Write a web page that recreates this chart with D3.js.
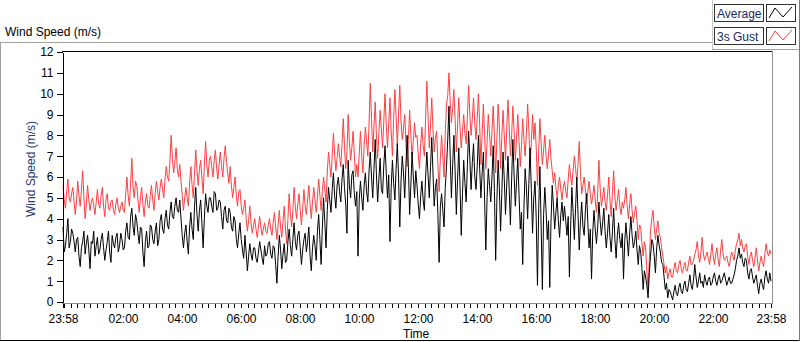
<!DOCTYPE html>
<html>
<head>
<meta charset="utf-8">
<script src="https://cdn.jsdelivr.net/npm/d3@7"></script>
<style>
  body { margin: 0; background: #fff; }
  svg { display: block; font-family: "Liberation Sans", Arial, sans-serif; }
</style>
</head>
<body>
<div id="chart"></div>
<script>
/* Samples every 2.5 minutes, starting 23:58, one row per hour. */
const stepMinutes = 2.5;
const avgSpeed = [
  3.6,2.4, 2.7,3.3, 4.0,2.6, 2.9,3.5, 3.3,2.9, 2.4,3.0, 3.1,2.2, 1.7,2.6, 2.9,3.4, 2.3,2.8, 3.2,2.5, 1.6,2.9,
  2.8,3.4, 2.2,2.7, 3.1,2.3, 2.5,3.0, 3.3,2.6, 2.0,2.5, 2.9,3.4, 2.4,1.9, 3.2,2.8, 2.6,3.1, 3.3,2.4, 2.7,3.3,
  3.0,2.5, 2.6,3.4, 3.8,3.1, 3.0,4.1, 4.5,3.6, 3.2,4.2, 3.9,3.3, 2.8,3.6, 3.5,2.4, 1.7,2.9, 3.4,2.6, 2.7,3.7,
  3.6,3.0, 2.8,3.4, 3.8,2.7, 3.0,3.9, 4.2,3.5, 3.3,4.0, 4.4,3.7, 3.5,4.3, 4.8,4.1, 4.0,4.6, 5.0,4.4, 4.3,4.9,
  4.0,3.2, 2.6,3.3, 3.7,2.9, 2.3,3.6, 4.3,3.5, 3.0,4.6, 5.5,4.2, 3.4,4.4, 4.9,3.8, 2.6,4.0, 5.2,4.6, 4.3,5.0,
  5.0,4.6, 4.3,5.3, 5.2,4.4, 4.5,4.9, 4.8,4.1, 3.5,4.4, 4.6,3.9, 3.8,4.5, 4.3,3.6, 3.4,4.1, 3.9,3.0, 2.6,3.3,
  3.8,3.0, 2.5,2.1, 3.2,2.4, 1.5,2.2, 2.8,2.3, 2.0,2.6, 2.6,2.1, 1.9,2.4, 2.9,2.5, 2.1,1.8, 2.7,2.2, 2.3,2.8,
  2.9,2.3, 2.1,2.7, 2.6,1.8, 0.9,2.2, 3.2,2.5, 1.6,2.3, 2.8,1.9, 2.0,2.9, 3.5,2.7, 2.2,3.0, 3.8,2.9, 2.5,3.2,
  3.4,2.6, 1.8,2.5, 3.0,3.3, 2.4,2.9, 3.6,2.2, 1.5,2.6, 3.2,2.7, 2.0,3.4, 4.2,3.0, 1.8,3.6, 5.0,3.8, 2.6,4.4,
  5.5,4.9, 4.3,5.4, 6.2,5.1, 4.5,5.6, 6.0,5.3, 4.8,5.9, 6.6,5.5, 4.7,3.3, 6.8,5.6, 5.0,6.1, 6.3,5.2, 4.6,5.3,
  2.2,4.9, 5.8,5.0, 4.4,5.6, 6.2,5.3, 4.8,6.3, 7.2,6.0, 5.0,6.4, 7.8,6.1, 4.8,5.9, 6.9,5.4, 5.2,6.6, 7.5,6.2,
  5.0,6.1, 2.9,5.5, 6.8,5.7, 4.9,6.4, 7.6,6.0, 3.6,5.8, 7.0,6.2, 5.0,6.6, 8.0,6.5, 4.2,5.6, 7.2,6.0, 5.0,6.3,
  5.6,4.7, 4.0,5.1, 5.8,4.9, 4.4,6.0, 7.2,6.1, 5.0,6.5, 7.9,6.2, 4.6,5.5, 5.9,4.2, 1.9,4.6, 5.2,4.4, 3.6,5.5,
  6.5,7.8, 9.4,7.0, 5.0,6.6, 8.0,6.3, 4.2,5.9, 7.4,5.6, 3.2,5.2, 6.8,5.7, 4.8,6.6, 8.2,6.9, 5.4,6.7, 7.6,6.0,
  5.4,6.5, 8.0,6.4, 5.0,6.2, 7.2,4.9, 2.5,5.0, 6.4,5.6, 4.8,6.0, 7.5,5.3, 2.0,4.9, 6.8,5.5, 3.4,5.2, 7.2,5.9,
  4.2,5.6, 7.0,5.4, 3.7,5.9, 7.8,6.1, 4.6,5.8, 6.9,5.2, 3.5,4.3, 1.8,4.5, 6.4,5.5, 4.0,5.7, 7.4,5.4, 3.3,5.0,
  5.8,4.0, 0.8,4.5, 6.5,3.6, 0.6,4.2, 5.5,4.4, 3.0,3.9, 0.7,3.8, 5.6,4.6, 3.5,4.3, 5.0,3.9, 3.1,4.2, 4.8,3.9,
  4.6,3.9, 3.2,4.1, 1.2,3.6, 5.5,4.3, 3.0,4.5, 6.0,4.2, 2.5,3.9, 4.8,3.6, 3.2,4.4, 5.2,3.8, 2.6,3.5, 1.1,3.4,
  4.4,3.5, 2.8,3.6, 4.8,3.9, 3.2,3.8, 4.5,3.4, 2.6,3.3, 4.2,3.1, 2.4,3.4, 4.5,3.0, 2.1,3.2, 3.8,3.0, 2.6,3.3,
  1.1,2.9, 3.8,3.0, 2.2,3.3, 4.1,3.2, 2.6,2.9, 3.4,2.5, 1.8,2.7, 2.4,1.6, 0.6,1.5, 1.2,0.8, 0.2,1.4, 2.2,3.0,
  2.8,2.2, 1.4,2.6, 3.2,2.7, 2.4,1.9, 1.8,1.2, 0.6,0.9, 0.2,0.6, 0.5,0.3, 0.1,0.5, 0.8,0.4, 0.3,0.7, 0.9,0.5,
  0.4,0.8, 1.0,0.6, 0.5,0.9, 1.3,0.8, 0.6,1.1, 1.8,1.2, 0.7,1.0, 1.4,0.9, 1.0,0.7, 1.3,1.0, 0.8,1.1, 1.2,0.8,
  0.9,1.2, 1.4,1.0, 0.8,1.1, 1.3,0.9, 1.0,1.2, 1.4,1.1, 0.8,1.0, 1.2,0.9, 0.9,1.1, 1.3,1.6, 2.0,2.2, 2.6,2.1,
  2.3,1.9, 1.7,2.1, 2.0,1.4, 1.1,1.5, 1.6,1.2, 0.9,1.1, 1.3,0.8, 0.4,0.9, 1.1,0.8, 0.6,1.2, 1.5,1.1, 0.9,1.4,
  1.0
];
const gustSpeed = [
  5.6,4.9, 4.5,5.3, 5.9,5.0, 4.8,5.2, 5.5,4.8, 4.2,4.9, 5.8,5.1, 4.6,5.4, 6.3,5.0, 4.0,4.7, 5.6,4.9, 4.4,4.8,
  5.0,4.6, 4.2,4.8, 5.4,4.7, 4.5,5.1, 5.5,4.6, 4.1,4.9, 5.2,4.5, 4.4,4.8, 4.9,4.4, 4.2,4.7, 5.0,4.5, 4.3,4.6,
  4.8,4.4, 4.3,5.2, 6.0,5.1, 4.6,5.7, 6.9,5.5, 5.0,5.8, 5.6,4.9, 4.3,5.0, 5.5,4.7, 4.1,4.8, 5.2,4.6, 4.5,5.1,
  5.6,4.9, 4.4,5.2, 5.8,5.3, 4.9,5.5, 5.9,5.4, 5.0,5.9, 6.5,6.0, 5.8,6.8, 8.0,6.9, 6.2,6.7, 7.4,6.4, 6.0,6.6,
  5.8,5.1, 4.4,5.0, 5.5,5.0, 4.6,5.7, 6.5,5.6, 5.0,6.2, 7.3,6.3, 5.6,6.4, 6.8,6.0, 5.2,6.5, 7.7,6.6, 6.0,6.8,
  7.0,6.5, 6.0,6.8, 7.3,6.4, 5.9,6.6, 7.2,6.5, 6.0,6.9, 7.5,6.7, 6.2,5.7, 6.5,5.6, 5.0,5.5, 6.0,5.1, 4.6,5.3,
  5.4,4.6, 4.2,4.5, 4.9,4.0, 3.4,3.9, 4.6,3.8, 3.3,3.7, 4.0,3.5, 3.1,3.6, 4.1,3.6, 3.2,3.5, 3.8,3.4, 3.3,3.7,
  4.0,3.5, 3.2,3.8, 4.3,3.6, 3.0,3.7, 4.4,3.6, 3.1,3.9, 4.6,3.5, 2.8,4.0, 5.2,4.3, 3.6,4.4, 5.5,4.6, 4.0,4.7,
  5.2,4.4, 3.7,4.5, 5.4,4.6, 4.2,4.9, 5.6,4.7, 4.0,4.8, 5.5,4.9, 4.3,5.0, 5.9,5.1, 4.4,5.3, 6.0,5.4, 4.8,6.2,
  7.2,6.6, 6.0,7.0, 8.1,7.1, 6.3,6.9, 7.6,7.0, 6.5,7.6, 8.8,7.5, 6.4,7.2, 9.0,7.7, 6.8,7.4, 8.2,7.1, 6.0,6.6,
  6.0,7.1, 8.2,7.0, 6.2,7.5, 8.4,7.7, 7.0,8.6, 10.5,8.8, 7.2,8.4, 9.6,8.0, 6.9,8.1, 9.2,8.3, 7.4,8.7, 10.0,8.5,
  7.4,8.6, 9.8,8.2, 7.0,8.8, 10.2,8.9, 7.5,9.0, 10.4,8.7, 7.8,8.3, 9.0,7.6, 6.5,7.8, 9.2,8.0, 7.0,7.7, 8.6,7.9,
  8.0,7.1, 6.4,7.6, 8.4,7.5, 7.0,8.8, 10.6,8.9, 7.4,8.5, 9.8,8.3, 7.2,7.9, 8.2,6.6, 5.3,6.9, 8.0,7.0, 6.0,8.1,
  9.5,9.9, 11.0,9.6, 8.6,9.3, 10.2,8.8, 7.2,8.5, 9.8,8.4, 7.4,8.2, 9.0,8.1, 7.6,8.9, 10.4,9.0, 8.0,8.8, 9.8,8.6,
  7.8,8.8, 10.0,8.5, 6.6,8.1, 9.5,8.0, 6.4,7.7, 9.0,8.1, 7.0,8.2, 9.4,7.9, 6.2,7.8, 9.5,8.4, 6.4,7.9, 9.2,8.0,
  6.8,8.3, 9.7,8.4, 7.0,8.0, 9.4,8.2, 6.8,7.9, 9.0,7.7, 6.5,7.5, 8.8,7.8, 7.0,8.1, 9.5,8.3, 6.6,7.6, 9.0,7.8,
  8.6,7.4, 5.6,7.2, 8.8,7.6, 6.6,7.3, 8.0,7.0, 6.4,7.1, 7.8,6.9, 6.3,5.7, 6.2,5.5, 5.0,5.6, 6.0,5.4, 4.9,5.5,
  5.8,5.3, 5.0,5.9, 6.6,6.0, 5.6,6.3, 7.0,6.4, 5.8,6.6, 7.7,6.2, 5.2,5.6, 6.0,5.4, 4.7,5.3, 5.8,5.2, 4.7,5.1,
  5.6,4.9, 4.3,5.2, 6.8,5.5, 4.6,5.0, 5.5,4.8, 4.4,5.1, 6.0,4.9, 4.1,5.3, 6.3,5.0, 4.4,4.9, 5.4,4.6, 4.2,4.8,
  4.5,4.9, 5.5,4.6, 4.0,4.7, 5.2,4.4, 3.8,4.3, 4.6,3.9, 3.0,3.7, 3.6,2.8, 2.2,2.9, 2.6,1.5, 0.6,2.0, 3.4,4.0,
  4.4,3.6, 3.0,3.5, 3.9,3.3, 3.1,2.6, 2.2,1.8, 1.4,1.7, 1.1,1.4, 1.6,1.2, 1.2,1.6, 1.9,1.5, 1.4,1.8, 2.0,1.6,
  1.4,1.7, 1.9,1.5, 1.5,1.9, 2.2,1.8, 1.8,2.0, 2.3,2.5, 2.9,2.2, 1.9,2.4, 3.1,2.3, 2.0,2.2, 2.4,2.1, 1.8,2.3,
  2.8,2.2, 1.8,2.3, 2.6,2.0, 1.7,2.5, 3.0,2.3, 2.0,2.1, 2.2,1.9, 1.7,2.1, 2.4,2.2, 2.0,2.5, 2.8,3.0, 3.3,2.7,
  3.0,2.6, 2.4,2.7, 2.8,2.2, 1.8,2.2, 2.4,2.0, 1.7,2.1, 2.6,2.0, 1.5,1.9, 2.2,1.9, 1.7,2.3, 2.8,2.4, 2.2,2.5,
  2.3
];
const seriesNames = ["Average", "3s Gust"];
const seriesColors = ["#000000", "#ff3f3f"];
const yTicks = [0, 1, 2, 3, 4, 5, 6, 7, 8, 9, 10, 11, 12];

/* Time axis: 23:58 to 23:58 the next day. */
const startTime = new Date(2020, 0, 1, 23, 58);
const endTime = new Date(2020, 0, 2, 23, 58);
const midnight = new Date(2020, 0, 2, 0, 0);
const timeOf = i => new Date(+startTime + i * stepMinutes * 60000);

const width = 800, height = 342;
const plot = { left: 63, right: 771, top: 52, bottom: 302 };

const svg = d3.select("#chart").append("svg")
  .attr("width", width)
  .attr("height", height);

const x = d3.scaleTime()
  .domain([startTime, endTime])
  .range([plot.left, plot.right]);
const y = d3.scaleLinear()
  .domain([0, 12])
  .range([plot.bottom, plot.top]);

/* Panel frame lines (LabVIEW style). */
const frame = svg.append("g").attr("shape-rendering", "crispEdges");
frame.append("line").attr("x1", 0).attr("x2", 712).attr("y1", 42.5).attr("y2", 42.5).attr("stroke", "#a0a0a0");
frame.append("line").attr("x1", 712.5).attr("x2", 712.5).attr("y1", 0).attr("y2", 49).attr("stroke", "#c8c8c8");
frame.append("line").attr("x1", 712).attr("x2", 800).attr("y1", 49.5).attr("y2", 49.5).attr("stroke", "#a0a0a0");
frame.append("line").attr("x1", 0.5).attr("x2", 0.5).attr("y1", 42).attr("y2", 341).attr("stroke", "#a0a0a0");
frame.append("line").attr("x1", 0).attr("x2", 800).attr("y1", 340.5).attr("y2", 340.5).attr("stroke", "#000");
frame.append("line").attr("x1", 799.5).attr("x2", 799.5).attr("y1", 0).attr("y2", 341).attr("stroke", "#7a7a7a");

/* Caption. */
svg.append("text")
  .attr("x", 5).attr("y", 36)
  .attr("font-size", 12)
  .attr("fill", "#000")
  .text("Wind Speed (m/s)");

/* Plot area border. */
frame.append("line").attr("x1", 62).attr("x2", 773).attr("y1", 51.5).attr("y2", 51.5).attr("stroke", "#000");
frame.append("line").attr("x1", 772.5).attr("x2", 772.5).attr("y1", 51).attr("y2", 304).attr("stroke", "#909090");
frame.append("line").attr("x1", 62).attr("x2", 773).attr("y1", 303.5).attr("y2", 303.5).attr("stroke", "#909090");

/* Series lines. */
const line = d3.line()
  .x((d, i) => x(timeOf(i)))
  .y(d => y(d));

[gustSpeed, avgSpeed].forEach((values, k) => {
  svg.append("path")
    .datum(values)
    .attr("fill", "none")
    .attr("stroke", k === 0 ? seriesColors[1] : seriesColors[0])
    .attr("stroke-width", 1)
    .attr("d", line);
});

/* Y axis. */
const yAxis = svg.append("g")
  .attr("transform", "translate(62.5,0)")
  .attr("shape-rendering", "crispEdges")
  .call(d3.axisLeft(y).tickValues(yTicks).tickSize(6).tickSizeOuter(0).tickPadding(3));
yAxis.select(".domain").attr("stroke", "#000");
yAxis.selectAll("text").attr("font-size", 12).attr("fill", "#000")
  .attr("font-family", "Liberation Sans, Arial, sans-serif");

svg.append("text")
  .attr("transform", "translate(35,169) rotate(-90)")
  .attr("text-anchor", "middle")
  .attr("font-size", 12)
  .attr("fill", "#1f3a6e")
  .text("Wind Speed (m/s)");

/* X axis: minor ticks every 1/9 of 2 hours from midnight, labels every 2 hours. */
const minorTicks = d3.range(0, 109)
  .map(k => new Date(+midnight + k * 800000))
  .filter(t => t <= endTime);
const majorTicks = [startTime]
  .concat(d3.timeHour.every(2).range(new Date(2020, 0, 2, 2, 0), endTime))
  .concat([endTime]);

const xMinor = svg.append("g")
  .attr("transform", "translate(0,304)")
  .attr("shape-rendering", "crispEdges")
  .call(d3.axisBottom(x).tickValues(minorTicks).tickSize(4).tickFormat(""));
xMinor.select(".domain").remove();

const xAxis = svg.append("g")
  .attr("transform", "translate(0,304)")
  .attr("shape-rendering", "crispEdges")
  .call(d3.axisBottom(x).tickValues(majorTicks).tickSize(4).tickPadding(6)
    .tickFormat(d3.timeFormat("%H:%M")));
xAxis.select(".domain").remove();
xAxis.selectAll("text").attr("font-size", 12).attr("fill", "#000")
  .attr("font-family", "Liberation Sans, Arial, sans-serif");

svg.append("text")
  .attr("x", 403).attr("y", 338)
  .attr("font-size", 12)
  .attr("fill", "#000")
  .text("Time");

/* Legend. */
const legend = svg.append("g").attr("transform", "translate(714,4)");
seriesNames.forEach((name, i) => {
  const row = legend.append("g").attr("transform", "translate(0," + (i * 23) + ")");
  row.append("rect")
    .attr("x", 0.5).attr("y", 0.5).attr("width", 49).attr("height", 17)
    .attr("fill", "#fff").attr("stroke", "#333").attr("shape-rendering", "crispEdges");
  row.append("text")
    .attr("x", 3).attr("y", 13.5)
    .attr("font-size", 12)
    .attr("fill", "#1a2a5e")
    .text(name);
  row.append("rect")
    .attr("x", 52.5).attr("y", 0.5).attr("width", 29).attr("height", 17)
    .attr("fill", "#fff").attr("stroke", "#333").attr("shape-rendering", "crispEdges");
  row.append("polyline")
    .attr("points", "55,14 61,4 69,13 78,3")
    .attr("fill", "none")
    .attr("stroke", seriesColors[i])
    .attr("stroke-width", 1);
});
</script>
</body>
</html>
